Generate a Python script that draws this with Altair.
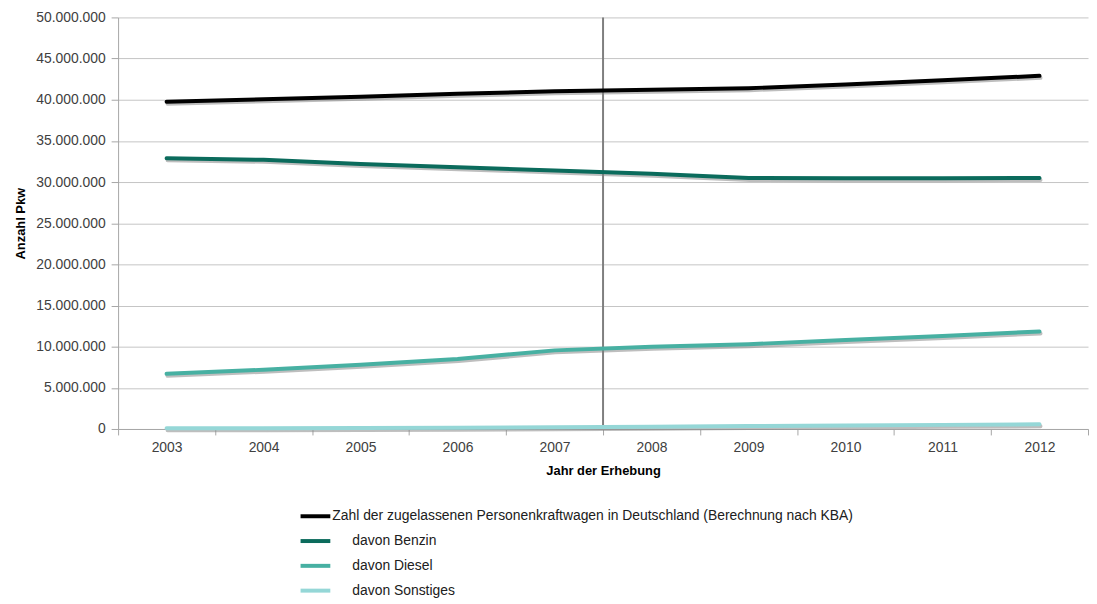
import altair as alt
import pandas as pd

years = ["2003", "2004", "2005", "2006", "2007", "2008", "2009", "2010", "2011", "2012"]
total = [39760000, 40060000, 40360000, 40720000, 41020000, 41200000, 41400000, 41850000, 42370000, 42900000]
benzin = [32900000, 32700000, 32200000, 31800000, 31400000, 31000000, 30500000, 30450000, 30450000, 30500000]
diesel = [6700000, 7200000, 7800000, 8500000, 9550000, 10000000, 10300000, 10800000, 11300000, 11850000]
sonstiges = [100000, 100000, 120000, 150000, 200000, 280000, 350000, 420000, 500000, 570000]

PAD = "\u2800" * 2
series_names = [
    "Zahl der zugelassenen Personenkraftwagen in Deutschland (Berechnung nach KBA)",
    PAD + "davon Benzin",
    PAD + "davon Diesel",
    PAD + "davon Sonstiges",
]
series_colors = ["#000000", "#0b6b5c", "#47b0a2", "#95d7d7"]
separator_year = ["2008"]

rows = []
for name, vals in zip(series_names, [total, benzin, diesel, sonstiges]):
    for y, v in zip(years, vals):
        rows.append({"year": y, "value": v, "series": name})
df = pd.DataFrame(rows)
sep = pd.DataFrame({"year": separator_year})

FONT = "Liberation Sans"

xscale = alt.Scale(type="band", domain=years, paddingInner=0, paddingOuter=0)
yscale = alt.Scale(domain=[0, 50000000])

x_enc = alt.X(
    "year:O", scale=xscale, bandPosition=0.5,
    axis=alt.Axis(title="Jahr der Erhebung", labelAngle=0, tickBand="extent",
                  titleFontWeight="bold", titleFontSize=13, titlePadding=10,
                  labelFontSize=14, labelColor="#404040", labelPadding=6,
                  domainColor="#a6a6a6", tickColor="#a6a6a6", tickSize=6, grid=False),
)
y_enc = alt.Y(
    "value:Q", scale=yscale,
    axis=alt.Axis(title="Anzahl Pkw", values=list(range(0, 50000001, 5000000)),
                  labelExpr="replace(format(datum.value, ',d'), /,/g, '.')",
                  titleFontWeight="bold", titleFontSize=13, titlePadding=8,
                  labelFontSize=14, labelColor="#404040", labelPadding=6,
                  domainColor="#a6a6a6", tickColor="#a6a6a6", tickSize=7,
                  gridColor="#c4c4c4", gridWidth=1),
)

color = alt.Color(
    "series:N",
    scale=alt.Scale(domain=series_names, range=series_colors),
    legend=alt.Legend(
        title=None, orient="none", legendX=182, legendY=486, direction="vertical",
        symbolType="stroke", symbolStrokeWidth=4, symbolSize=900,
        labelFontSize=14, labelFont=FONT, labelColor="#202020", labelOffset=0,
        rowPadding=-5, labelLimit=900,
    ),
)

shadow = alt.Chart(df).mark_line(
    strokeWidth=4, color="#888888", opacity=0.55, xOffset=1, yOffset=2, strokeCap="round"
).encode(x=x_enc, y=y_enc, detail="series:N")

lines = alt.Chart(df).mark_line(strokeWidth=4, strokeCap="round").encode(
    x=x_enc, y=y_enc, color=color
)

rule = alt.Chart(sep).mark_rule(color="#7f7f7f", strokeWidth=2).encode(
    x=alt.X("year:O", scale=xscale, bandPosition=0)
)

chart = alt.layer(shadow, rule, lines).properties(
    width=978, height=415, padding={"left": 6, "top": 0, "right": 0, "bottom": 5}
).configure(font=FONT).configure_view(stroke=None).configure_axis(
    labelFont=FONT, titleFont=FONT
)

chart.save("out.html", embed_options={"renderer": "svg", "actions": False})
